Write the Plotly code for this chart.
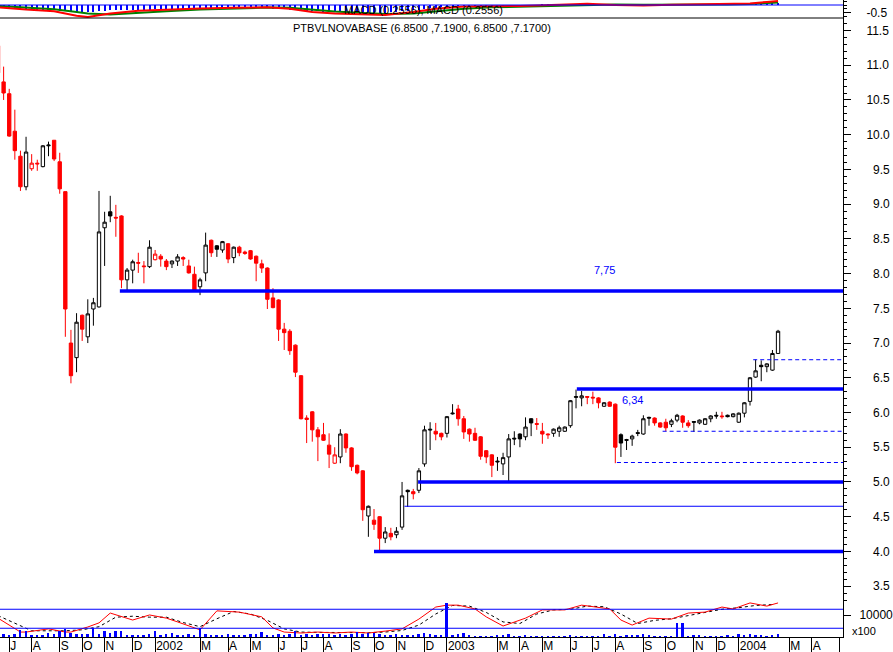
import plotly.graph_objects as go
import pandas as pd

# ---------------- data (weekly bars) ----------------
start_date = "2001-06-22"

opens = [11.28, 10.76, 10.59, 10.05, 9.69, 9.25, 9.51, 9.59, 9.54, 9.84,
         9.92, 9.61, 9.18, 7.00, 6.79, 7.40, 7.09, 7.49, 7.52, 8.66,
         8.89, 8.81, 8.83, 7.91, 8.05, 8.16, 8.11, 8.10, 8.20, 8.25,
         8.18, 8.14, 8.18, 8.23, 8.11, 7.99, 7.81, 8.01, 8.48, 8.40,
         8.34, 8.43, 8.23, 8.38, 8.31, 8.33, 8.25, 8.14, 8.08, 7.65,
         7.62, 7.20, 7.17, 6.97, 6.53, 5.92, 6.01, 5.75, 5.68, 5.53,
         5.27, 5.36, 5.69, 5.49, 5.24, 5.16, 4.51, 4.45, 4.50, 4.19,
         4.26, 4.24, 4.35, 4.88, 4.86, 4.88, 5.26, 5.76, 5.73, 5.70,
         5.70, 5.98, 6.05, 5.91, 5.76, 5.70, 5.65, 5.45, 5.39, 5.30,
         5.26, 5.36, 5.63, 5.69, 5.65, 5.91, 5.84, 5.73, 5.69, 5.70,
         5.73, 5.73, 5.81, 6.23, 6.21, 6.23, 6.22, 6.21, 6.09, 6.15,
         6.12, 5.68, 5.61, 5.62, 5.71, 5.69, 5.93, 5.92, 5.85, 5.86,
         5.83, 5.89, 5.95, 5.85, 5.87, 5.85, 5.83, 5.91, 5.96, 5.95,
         5.96, 5.94, 5.86, 5.99, 6.16, 6.51, 6.68, 6.66, 6.61, 6.85]
highs = [11.36, 10.98, 10.66, 10.36, 9.77, 9.97, 9.72, 9.64, 9.85, 9.90,
         9.92, 9.74, 9.18, 7.19, 7.43, 7.41, 7.63, 7.65, 9.19, 8.89,
         9.12, 8.99, 8.84, 8.08, 8.20, 8.30, 8.18, 8.48, 8.34, 8.28,
         8.21, 8.19, 8.28, 8.25, 8.20, 8.10, 7.94, 8.59, 8.49, 8.41,
         8.47, 8.44, 8.39, 8.40, 8.33, 8.34, 8.26, 8.20, 8.09, 7.79,
         7.63, 7.29, 7.20, 6.98, 6.54, 5.96, 6.02, 5.79, 5.85, 5.70,
         5.50, 5.76, 5.70, 5.50, 5.25, 5.17, 4.66, 4.61, 4.51, 4.35,
         4.34, 4.35, 5.00, 4.89, 4.90, 5.20, 5.81, 5.86, 5.85, 5.71,
         5.95, 6.12, 6.11, 5.95, 5.77, 5.78, 5.66, 5.46, 5.40, 5.36,
         5.42, 5.69, 5.73, 5.70, 5.93, 5.92, 5.92, 5.85, 5.70, 5.77,
         5.81, 5.80, 6.18, 6.33, 6.31, 6.23, 6.30, 6.22, 6.15, 6.16,
         6.13, 5.70, 5.62, 5.68, 5.75, 5.96, 5.94, 5.93, 5.86, 5.91,
         5.91, 5.98, 5.96, 5.89, 5.87, 5.90, 5.92, 5.96, 6.01, 6.01,
         5.97, 5.99, 6.00, 6.15, 6.51, 6.76, 6.75, 6.71, 6.90, 7.19]
lows = [10.85, 10.50, 9.97, 9.64, 9.19, 9.20, 9.48, 9.48, 9.53, 9.69,
        9.62, 9.15, 7.09, 6.42, 6.58, 7.03, 7.00, 7.25, 7.51, 8.11,
        8.74, 8.53, 7.79, 7.76, 7.86, 8.01, 7.86, 8.08, 8.19, 8.10,
        8.05, 8.08, 8.11, 8.11, 8.00, 7.75, 7.69, 7.89, 8.24, 8.24,
        8.30, 8.15, 8.15, 8.25, 8.27, 8.20, 7.89, 8.01, 7.49, 7.50,
        7.03, 6.90, 6.83, 6.51, 5.90, 5.56, 5.58, 5.30, 5.59, 5.20,
        5.26, 5.27, 5.42, 5.16, 5.11, 4.44, 4.21, 4.31, 4.00, 4.12,
        4.16, 4.19, 4.31, 4.64, 4.75, 4.84, 5.22, 5.46, 5.60, 5.60,
        5.64, 5.97, 5.81, 5.62, 5.58, 5.59, 5.32, 5.27, 5.07, 5.16,
        5.10, 5.01, 5.53, 5.50, 5.60, 5.66, 5.75, 5.55, 5.62, 5.65,
        5.65, 5.72, 5.78, 6.06, 6.09, 6.12, 6.12, 6.06, 6.08, 6.08,
        5.27, 5.36, 5.46, 5.52, 5.66, 5.68, 5.81, 5.81, 5.78, 5.73,
        5.79, 5.86, 5.78, 5.78, 5.72, 5.83, 5.82, 5.86, 5.91, 5.91,
        5.93, 5.93, 5.85, 5.93, 6.10, 6.50, 6.45, 6.58, 6.60, 6.85]
closes = [10.89, 10.60, 9.98, 9.77, 9.25, 9.75, 9.59, 9.58, 9.84, 9.85,
          9.65, 9.22, 7.49, 6.53, 7.30, 7.20, 7.42, 7.58, 8.60, 8.74,
          8.83, 8.80, 7.91, 8.05, 8.17, 8.15, 8.10, 8.38, 8.28, 8.21,
          8.10, 8.18, 8.24, 8.21, 8.01, 7.76, 7.91, 8.41, 8.30, 8.35,
          8.46, 8.21, 8.38, 8.30, 8.29, 8.21, 8.15, 8.08, 7.63, 7.51,
          7.20, 7.15, 6.89, 6.58, 5.91, 5.90, 5.75, 5.65, 5.60, 5.40,
          5.39, 5.69, 5.49, 5.22, 5.13, 4.60, 4.65, 4.39, 4.19, 4.28,
          4.21, 4.29, 4.80, 4.86, 4.83, 5.16, 5.75, 5.75, 5.69, 5.65,
          5.94, 5.99, 5.91, 5.72, 5.69, 5.60, 5.37, 5.36, 5.24, 5.29,
          5.35, 5.62, 5.62, 5.62, 5.79, 5.85, 5.83, 5.69, 5.68, 5.76,
          5.78, 5.79, 6.17, 6.22, 6.24, 6.22, 6.21, 6.14, 6.14, 6.09,
          5.50, 5.56, 5.60, 5.66, 5.70, 5.91, 5.92, 5.85, 5.79, 5.78,
          5.88, 5.96, 5.86, 5.81, 5.86, 5.89, 5.91, 5.95, 5.95, 5.94,
          5.94, 5.98, 5.99, 6.14, 6.50, 6.60, 6.66, 6.70, 6.85, 7.17]

# volume in units of 100 shares
volume = [750, 1500, 750, 1500, 3300, 2550, 1050, 1050, 1050, 1950,
          1500, 2550, 3800, 1950, 1500, 1500, 1500, 4100, 1500, 2700,
          1950, 2550, 2550, 1050, 1050, 1050, 1050, 1500, 2550, 1050,
          1500, 1950, 1050, 1050, 1500, 1050, 4100, 1500, 1050, 1050,
          1050, 1500, 1050, 1050, 1050, 1500, 1500, 2250, 1050, 1050,
          1500, 1050, 1500, 2700, 1050, 1500, 1050, 1500, 1500, 1500,
          1050, 1500, 1050, 1500, 2250, 1500, 1950, 1950, 1500, 1050,
          1050, 1500, 1050, 1050, 1050, 1500, 1950, 1500, 1050, 1050,
          15450, 1050, 1500, 1950, 1050, 450, 450, 450, 450, 1050,
          1050, 1500, 450, 450, 1050, 450, 450, 450, 450, 450,
          450, 450, 750, 450, 450, 450, 450, 450, 1500, 450,
          1500, 450, 1050, 750, 1050, 1500, 750, 450, 450, 450,
          450, 6350, 6350, 450, 1050, 750, 450, 450, 450, 450,
          1050, 450, 1500, 1050, 1500, 1050, 750, 450, 1050, 1500]

# stochastic-type oscillator (%K red, %D black dashed), sampled week indices
osc_k_week = [0, 2, 4, 5, 6, 9, 12, 13, 16, 18, 20, 24, 27, 30, 32, 36, 39, 43, 47,
              49, 51, 54, 57, 60, 63, 66, 69, 72, 75, 78, 80, 82, 85, 87, 90, 94,
              97, 101, 104, 107, 109, 111, 113, 116, 120, 123, 126, 129, 131, 134,
              137, 139]
osc_k = [52, 30, 8, 8, 11, 18, 8, 8, 24, 37, 68, 46, 62, 52, 40, 15, 75, 71, 56,
         21, 8, 5, 8, 5, 8, 5, 11, 18, 49, 87, 93, 93, 81, 56, 27, 52,
         78, 78, 93, 87, 81, 46, 30, 52, 49, 68, 71, 87, 81, 100,
         90, 100]
osc_d_week = [0, 3, 6, 9, 12, 15, 18, 21, 24, 27, 30, 33, 36, 39, 42, 45, 48, 51,
              54, 57, 60, 63, 66, 69, 72, 75, 78, 81, 84, 87, 90, 93, 96, 99, 102,
              105, 108, 111, 114, 117, 120, 123, 126, 129, 132, 135, 138]
osc_d = [60, 35, 12, 12, 12, 15, 25, 55, 58, 55, 55, 38, 25, 50, 73, 65, 45, 18,
         8, 7, 6, 7, 6, 8, 13, 30, 65, 92, 90, 70, 40, 35, 65, 78, 80,
         90, 88, 65, 35, 45, 50, 60, 70, 80, 85, 92, 95]

# MACD strip
macd_week = [0, 5, 10, 14, 16, 20, 25, 30, 36, 42, 48, 52, 56, 60, 65, 69, 74, 78,
             83, 88, 93, 100, 105, 110, 115, 120, 125, 130, 134, 137, 139]
macd_line = [-0.15, -0.30, -0.40, -0.70, -0.78, -0.55, -0.38, -0.30, -0.22, -0.18,
             -0.15, -0.25, -0.45, -0.55, -0.62, -0.65, -0.45, -0.25, -0.10, -0.10,
             -0.06, 0.02, 0.08, 0.00, -0.03, 0.02, 0.04, 0.05, 0.10, 0.20, 0.2556]
macd_signal = [-0.05, -0.15, -0.28, -0.45, -0.55, -0.62, -0.50, -0.40, -0.30, -0.22,
               -0.17, -0.18, -0.30, -0.42, -0.52, -0.58, -0.55, -0.40, -0.25, -0.15,
               -0.10, -0.03, 0.03, 0.04, 0.01, 0.01, 0.03, 0.04, 0.06, 0.12, 0.17]
macd_hist = [-0.10, -0.14, -0.18, -0.22, -0.26, -0.28, -0.30, -0.31, -0.32, -0.33,
             -0.34, -0.36, -0.40, -0.45, -0.47, -0.46, -0.45, -0.43, -0.40, -0.37,
             -0.35, -0.34, -0.34, -0.33, -0.33, -0.32, -0.31, -0.30, -0.29, -0.28,
             -0.28, -0.27, -0.27, -0.26, -0.26, -0.26, -0.25, -0.24, -0.23, -0.22,
             -0.22, -0.21, -0.21, -0.20, -0.20, -0.20, -0.20, -0.21, -0.22, -0.24,
             -0.26, -0.28, -0.30, -0.32, -0.35, -0.38, -0.40, -0.42, -0.43, -0.44,
             -0.45, -0.45, -0.45, -0.46, -0.47, -0.48, -0.50, -0.50, -0.50, -0.49,
             -0.47, -0.45, -0.42, -0.38, -0.34, -0.30, -0.26, -0.22, -0.18, -0.15,
             -0.12, -0.10, -0.08, -0.07, -0.07, -0.07, -0.08, -0.08, -0.08, -0.07,
             -0.06, -0.05, -0.04, -0.03, -0.02, -0.01, 0.00, 0.01, 0.02, 0.02,
             0.02, 0.03, 0.03, 0.04, 0.04, 0.04, 0.03, 0.03, 0.02, 0.01,
             0.01, 0.01, 0.01, 0.02, 0.02, 0.02, 0.02, 0.03, 0.03, 0.03,
             0.03, 0.03, 0.03, 0.03, 0.03, 0.03, 0.03, 0.03, 0.03, 0.03,
             0.03, 0.04, 0.04, 0.05, 0.06, 0.07, 0.08, 0.09, 0.10, 0.10]

# drawn support / resistance levels
thick_levels = [7.75, 6.34, 5.00, 4.00]
thick_starts = ["2001-11-21", "2003-06-14", "2002-11-28", "2002-10-04"]
thin_levels = [4.65]
thin_starts = ["2002-11-11"]
dashed_levels = [6.76, 5.73, 5.28]
dashed_starts = ["2004-01-20", "2003-09-29", "2003-08-03"]

tick_dates = ["2001-07-06", "2001-08-03", "2001-09-07", "2001-10-05", "2001-11-02",
              "2001-12-07", "2002-01-04", "2002-03-01", "2002-04-05", "2002-05-03",
              "2002-06-07", "2002-07-05", "2002-08-02", "2002-09-06", "2002-10-04",
              "2002-11-01", "2002-12-06", "2003-01-03", "2003-03-07", "2003-04-04",
              "2003-05-02", "2003-06-06", "2003-07-04", "2003-08-01", "2003-09-05",
              "2003-10-03", "2003-11-07", "2003-12-05", "2004-01-02", "2004-03-05",
              "2004-04-02", "2004-05-07"]
tick_labels = ["J", "A", "S", "O", "N", "D", "2002", "M", "A", "M", "J", "J", "A",
               "S", "O", "N", "D", "2003", "M", "A", "M", "J", "J", "A", "S", "O",
               "N", "D", "2004", "M", "A", ""]

price_ticks = [3.5, 4.0, 4.5, 5.0, 5.5, 6.0, 6.5, 7.0, 7.5, 8.0, 8.5, 9.0, 9.5,
               10.0, 10.5, 11.0, 11.5]

# ---------------- figure ----------------
dates = pd.date_range(start_date, periods=len(closes), freq="7D")
n = len(closes)
x_start, x_end = "2001-06-24 12:00", "2004-05-11"

up = [False] + [closes[i] >= closes[i - 1] for i in range(1, n)]
FONT = "Liberation Sans, Arial, sans-serif"
BLUE = "#0000ff"


def sel(arr, flag):
    return [arr[i] for i in range(n) if up[i] == flag]


fig = go.Figure()

# volume (bottom panel, overlay axis)
fig.add_trace(go.Bar(x=dates, y=volume, marker_color=BLUE, marker_line_width=0,
                     width=2.4 * 86400000, yaxis="y4", showlegend=False))

# oscillator
fig.add_trace(go.Scatter(x=[dates[i] for i in osc_d_week], y=osc_d, mode="lines",
                         line=dict(color="black", width=1, dash="3px,3px"),
                         yaxis="y3", showlegend=False))
fig.add_trace(go.Scatter(x=[dates[i] for i in osc_k_week], y=osc_k, mode="lines",
                         line=dict(color="#ff0000", width=1),
                         yaxis="y3", showlegend=False))

# MACD strip
fig.add_trace(go.Bar(x=dates, y=macd_hist, marker_color=BLUE, marker_line_width=0,
                     width=1.3 * 86400000, yaxis="y2", showlegend=False))
fig.add_trace(go.Scatter(x=[dates[i] for i in macd_week], y=macd_signal, mode="lines",
                         line=dict(color="#008000", width=2), yaxis="y2", showlegend=False))
fig.add_trace(go.Scatter(x=[dates[i] for i in macd_week], y=macd_line, mode="lines",
                         line=dict(color="#ff0000", width=2), yaxis="y2", showlegend=False))

# candles: black when close >= previous close, red otherwise
for flag, col, dfill in [(True, "black", "black"), (False, "#ff0000", "#ff0000")]:
    fig.add_trace(go.Candlestick(
        x=sel(list(dates), flag), open=sel(opens, flag), high=sel(highs, flag),
        low=sel(lows, flag), close=sel(closes, flag),
        increasing=dict(line=dict(color=col, width=1), fillcolor="white"),
        decreasing=dict(line=dict(color=col, width=1), fillcolor=dfill),
        whiskerwidth=0, yaxis="y", showlegend=False, hoverinfo="skip"))

shapes = []
for lvl, s in zip(thick_levels, thick_starts):
    shapes.append(dict(type="line", xref="x", yref="y", x0=s, x1=x_end, y0=lvl, y1=lvl,
                       line=dict(color=BLUE, width=3.5)))
for lvl, s in zip(thin_levels, thin_starts):
    shapes.append(dict(type="line", xref="x", yref="y", x0=s, x1=x_end, y0=lvl, y1=lvl,
                       line=dict(color=BLUE, width=1)))
for lvl, s in zip(dashed_levels, dashed_starts):
    shapes.append(dict(type="line", xref="x", yref="y", x0=s, x1=x_end, y0=lvl, y1=lvl,
                       line=dict(color=BLUE, width=1, dash="4px,3px")))
# oscillator reference levels
for lvl in [20, 80]:
    shapes.append(dict(type="line", xref="paper", yref="y3", x0=0, x1=1, y0=lvl, y1=lvl,
                       line=dict(color=BLUE, width=1)))
# MACD zero line and strip separator
shapes.append(dict(type="line", xref="paper", yref="y2", x0=0, x1=1, y0=0, y1=0,
                   line=dict(color=BLUE, width=1)))

MAIN_BOT, MAIN_TOP = 36 / 637, 619 / 637
shapes.append(dict(type="line", xref="paper", yref="paper", x0=0, x1=1,
                   y0=MAIN_TOP, y1=MAIN_TOP, line=dict(color="black", width=1)))

annotations = [
    dict(text="PTBVLNOVABASE (6.8500 ,7.1900, 6.8500 ,7.1700)", xref="paper", yref="paper",
         x=0.5, y=(637 - 28) / 637, xanchor="center", yanchor="middle",
         showarrow=False, font=dict(size=11, color="black")),
    dict(text="MACD (0.2556), MACD (0.2556)", xref="paper", yref="paper",
         x=0.502, y=(637 - 10) / 637, xanchor="center", yanchor="middle",
         showarrow=False, font=dict(size=11, color="black")),
    dict(text="7,75", xref="x", yref="y", x=dates[108], y=8.05, xanchor="center",
         yanchor="middle", showarrow=False, font=dict(size=11, color=BLUE)),
    dict(text="6,34", xref="x", yref="y", x=dates[113], y=6.18, xanchor="center",
         yanchor="middle", showarrow=False, font=dict(size=11, color=BLUE)),
    dict(text="x100", xref="paper", yref="paper", x=1.008, y=(637 - 631) / 637,
         xanchor="left", yanchor="middle", showarrow=False,
         font=dict(size=11, color="black")),
]

FS = "\u2007"
price_text = [(FS if v < 10 else "") + f"{v:.1f}" for v in price_ticks]

axis_common = dict(showgrid=False, zeroline=False, showline=True, linecolor="black",
                   linewidth=1, side="right", anchor="x", ticks="outside",
                   tickcolor="black", tickfont=dict(size=12, color="black"),
                   automargin=False)

fig.update_layout(
    width=893, height=652,
    margin=dict(l=0, r=50, t=0, b=15, autoexpand=False),
    paper_bgcolor="white", plot_bgcolor="white",
    font=dict(family=FONT, size=12, color="black"),
    showlegend=False, barmode="overlay", bargap=0, boxgap=0.15,
    shapes=shapes, annotations=annotations,
    xaxis=dict(type="date", range=[x_start, x_end], anchor="y3", automargin=False,
               showgrid=False, zeroline=False, showline=True, linecolor="black",
               ticks="outside", ticklen=15, tickcolor="black",
               tickmode="array", tickvals=tick_dates, ticktext=tick_labels,
               tickangle=0,
               ticklabelposition="outside right", ticklabelstandoff=-2,
               tickfont=dict(size=12, color="black"),
               rangeslider=dict(visible=False)),
    yaxis=dict(domain=[MAIN_BOT, MAIN_TOP], range=[3.286, 11.68],
               tickmode="array", tickvals=price_ticks, ticktext=price_text,
               ticklen=7, ticklabelstandoff=13,
               minor=dict(tickmode="linear", tick0=0, dtick=0.1, ticklen=3,
                          ticks="outside", tickcolor="black"),
               **axis_common),
    yaxis2=dict(domain=[MAIN_TOP, 1], range=[-0.844, 0.325],
                tickmode="array", tickvals=[-0.5], ticktext=["-0.5"],
                ticklen=7, ticklabelstandoff=13,
                minor=dict(tickmode="linear", tick0=0, dtick=0.25, ticklen=3,
                           ticks="outside", tickcolor="black"),
                **axis_common),
    yaxis3=dict(domain=[0, MAIN_BOT], range=[-7.6, 106.1],
                tickmode="array", tickvals=[], ticklen=5, **axis_common),
    yaxis4=dict(overlaying="y3", range=[0, 16364],
                tickmode="array", tickvals=[10000], ticktext=["10000"],
                ticklen=7, ticklabelstandoff=6,
                **axis_common),
)

fig.write_html("out.html", config={"displayModeBar": False},
               post_script="document.body.style.margin='0';")
